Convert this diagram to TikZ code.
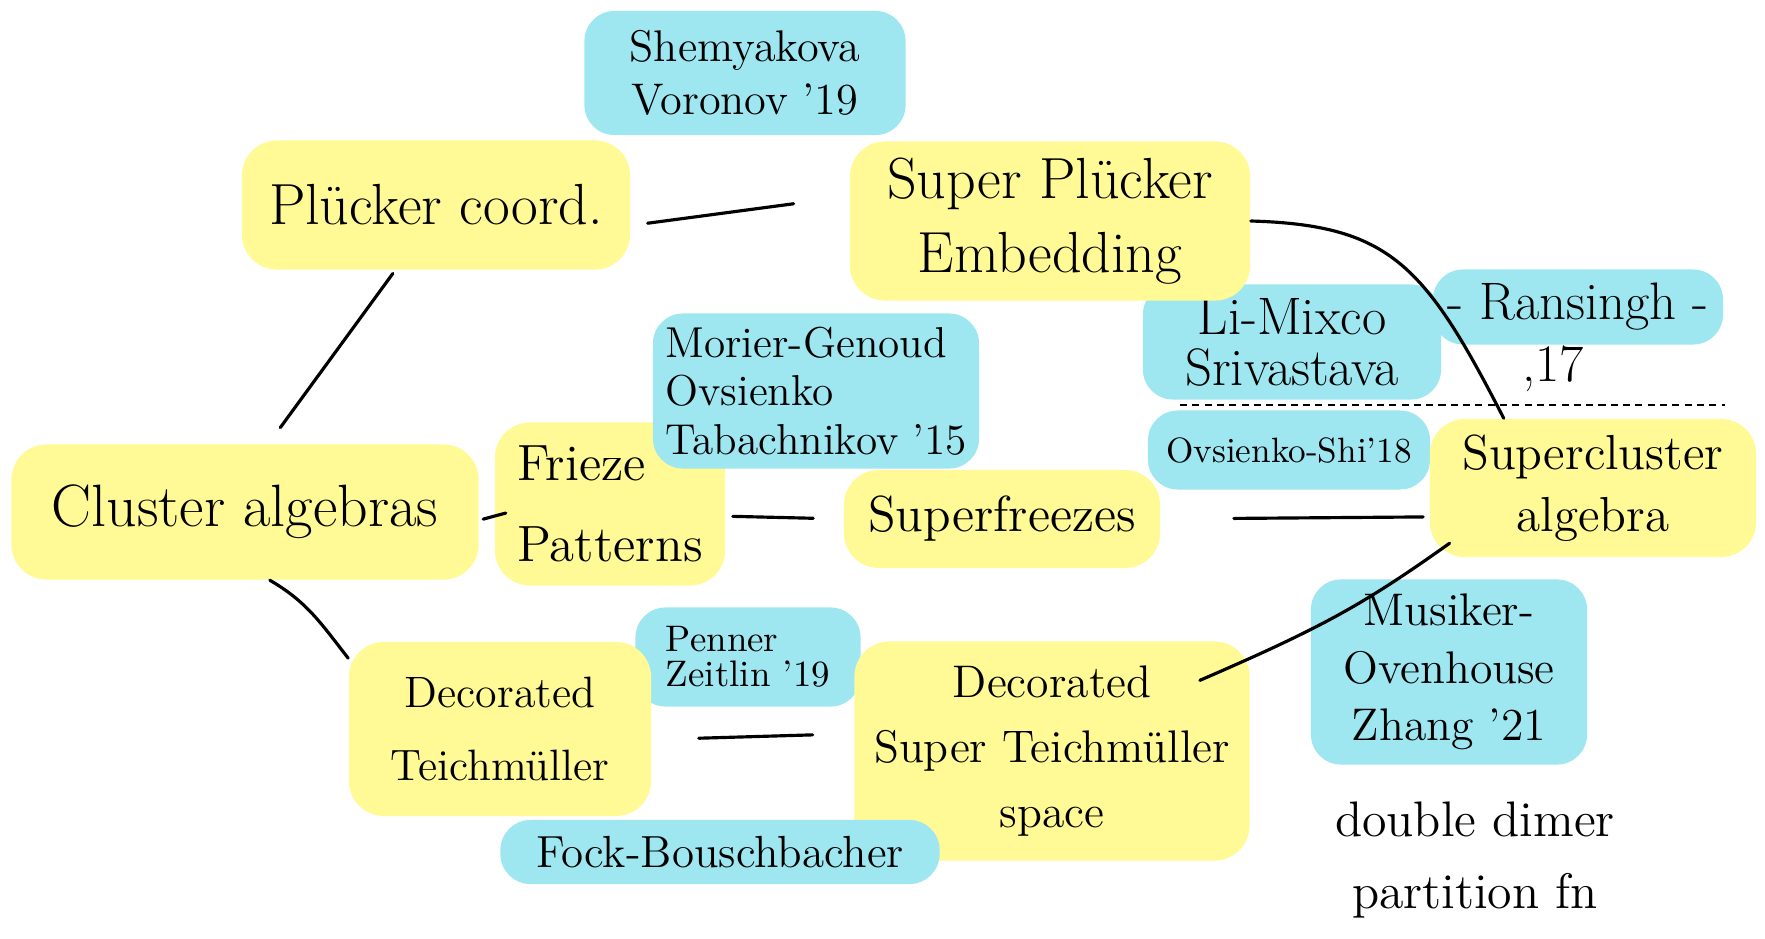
\documentclass[tikz,border=0pt]{standalone}
\usepackage{tikz}
\usetikzlibrary{arrows}
\definecolor{hlyellow}{HTML}{FFFA96}
\definecolor{hlblue}{HTML}{9EE6F0}

\begin{document}
\begin{tikzpicture}[x=0.01cm,y=-0.01cm]
\tikzset{yel/.style = {fill=hlyellow,rounded corners=0.35cm,align=center,inner sep=0pt}}
\tikzset{blu/.style = {fill=hlblue,rounded corners=0.3cm,align=center,inner sep=0pt}}
\tikzset{edge/.style = {line width=0.9pt,line cap=round}}
\useasboundingbox (0,0) rectangle (1765,939);
% vertices
\node[blu,minimum width=3.21cm,minimum height=1.24cm,font=\fontsize{12.6}{15}\selectfont] (shem) at (745,73) {Shemyakova\\Voronov '19};
\node[yel,minimum width=3.88cm,minimum height=1.29cm,font=\fontsize{16.5}{20}\selectfont] (plucker) at (436,205) {Plücker coord.};
\node[blu,minimum width=2.98cm,minimum height=1.15cm,font=\fontsize{15}{14.5}\selectfont] (limix) at (1292,342) {Li-Mixco\\Srivastava};
\node[yel,minimum width=4.00cm,minimum height=1.59cm,font=\fontsize{16.5}{21}\selectfont] (superpl) at (1050,221) {Super Plücker\\Embedding};
\node[blu,minimum width=2.90cm,minimum height=0.75cm,font=\fontsize{15}{15}\selectfont] (ransingh) at (1578,307) {- Ransingh -};
\node[font=\fontsize{15}{15}\selectfont,inner sep=0pt] (year17) at (1553,369) {,17};
\node[yel,minimum width=2.30cm,minimum height=1.63cm,align=left,font=\fontsize{14.5}{23}\selectfont] (frieze) at (610,504) {Frieze\\Patterns};
\node[yel,minimum width=3.16cm,minimum height=0.98cm,font=\fontsize{14.4}{17}\selectfont] (superfr) at (1002,519) {Superfreezes};
\node[blu,minimum width=3.26cm,minimum height=1.55cm,align=left,font=\fontsize{12.3}{13.8}\selectfont] (morier) at (816,391) {Morier-Genoud\\Ovsienko\\Tabachnikov '15};
\node[yel,minimum width=4.67cm,minimum height=1.35cm,font=\fontsize{17}{20}\selectfont] (cluster) at (245,512) {Cluster algebras};
\node[blu,minimum width=2.82cm,minimum height=0.79cm,font=\fontsize{10}{12}\selectfont] (ovshi) at (1289,450) {Ovsienko-Shi'18};
\node[yel,minimum width=3.26cm,minimum height=1.38cm,font=\fontsize{14}{17.6}\selectfont] (supercl) at (1593,488) {Supercluster\\algebra};
\node[blu,minimum width=2.25cm,minimum height=0.99cm,align=left,font=\fontsize{10.5}{10}\selectfont] (penner) at (748,657) {Penner\\Zeitlin '19};
\node[yel,minimum width=3.02cm,minimum height=1.74cm,font=\fontsize{12.5}{21}\selectfont] (decT) at (500,729) {Decorated\\Teichmüller};
\node[yel,minimum width=3.95cm,minimum height=2.19cm,font=\fontsize{13}{18.4}\selectfont] (decST) at (1052,751) {Decorated\\Super Teichmüller\\space};
\node[blu,minimum width=4.39cm,minimum height=0.64cm,font=\fontsize{12.8}{15}\selectfont] (fock) at (720,852) {Fock-Bouschbacher};
\node[blu,minimum width=2.76cm,minimum height=1.85cm,font=\fontsize{13}{16.4}\selectfont] (musiker) at (1449,672) {Musiker-\\Ovenhouse\\Zhang '21};
\node[align=center,inner sep=0pt,font=\fontsize{14.2}{20.7}\selectfont] (dimer) at (1475,860) {double dimer\\partition fn};
\coordinate (sepL) at (1180,405);
\coordinate (sepR) at (1725,405);
%edges
\draw[edge,shorten <=0.17cm,shorten >=0.56cm] (plucker.-6) -- (superpl.173);
\draw[edge,shorten <=0.04cm,shorten >=0.2cm] (plucker.238) -- (cluster.71);
\draw[edge] (superpl.east) .. controls (1390,225) and (1425,265) .. (supercl.142);
\draw[edge,shorten <=0.04cm,shorten >=-0.12cm] (cluster.-2) -- (frieze.186);
\draw[edge,shorten <=0.07cm,shorten >=0.3cm] (frieze.-6) -- (superfr.180);
\draw[edge,shorten <=0.73cm,shorten >=0.06cm] (superfr.east) -- (supercl.190);
\draw[edge] (cluster.290) to[out=-30,in=128] (decT.155);
\draw[edge,shorten <=0.47cm,shorten >=0.41cm] (decT.-4) -- (decST.175);
\draw[edge,shorten <=-0.55cm,shorten >=-0.25cm] (decST.25) to[bend right=6] (supercl.south west);
\draw[line width=0.6pt,dash pattern=on 2pt off 1.5pt] (sepL) -- (sepR);
\end{tikzpicture}
\end{document}
